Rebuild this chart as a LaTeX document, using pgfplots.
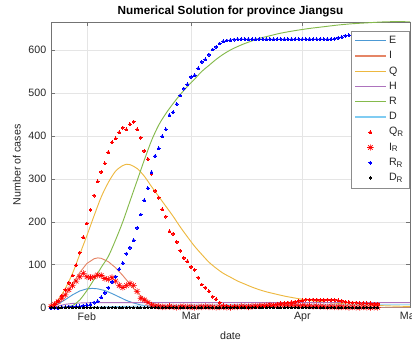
\documentclass[border=0pt]{standalone}
\usepackage{fontspec}
\setmainfont{Liberation Sans}
\usepackage{pgfplots}
\pgfplotsset{compat=1.18}
\usetikzlibrary{calc}

% MATLAB-like line colours
\definecolor{cE}{rgb}{0.30,0.60,0.83}
\definecolor{cI}{rgb}{0.90,0.52,0.40}
\definecolor{cQ}{rgb}{0.93,0.72,0.25}
\definecolor{cH}{rgb}{0.68,0.45,0.74}
\definecolor{cR}{rgb}{0.52,0.73,0.30}
\definecolor{cD}{rgb}{0.50,0.80,0.95}
\definecolor{axgray}{gray}{0.45}
\definecolor{txtgray}{gray}{0.15}

% eight-armed asterisk, as in MATLAB's '*' marker
\pgfdeclareplotmark{mstar}{%
  \pgfpathmoveto{\pgfqpoint{-\pgfplotmarksize}{0pt}}%
  \pgfpathlineto{\pgfqpoint{\pgfplotmarksize}{0pt}}%
  \pgfpathmoveto{\pgfqpoint{0pt}{-\pgfplotmarksize}}%
  \pgfpathlineto{\pgfqpoint{0pt}{\pgfplotmarksize}}%
  \pgfpathmoveto{\pgfqpoint{-0.707\pgfplotmarksize}{-0.707\pgfplotmarksize}}%
  \pgfpathlineto{\pgfqpoint{0.707\pgfplotmarksize}{0.707\pgfplotmarksize}}%
  \pgfpathmoveto{\pgfqpoint{-0.707\pgfplotmarksize}{0.707\pgfplotmarksize}}%
  \pgfpathlineto{\pgfqpoint{0.707\pgfplotmarksize}{-0.707\pgfplotmarksize}}%
  \pgfusepathqstroke}

\pgfplotsset{
  linelegend/.style={legend image code/.code={\draw[##1, line width=0.9pt] (0pt,0pt) -- (23pt,0pt);}},
  dotlegend/.style={legend image code/.code={\draw[mark repeat=2,mark phase=2,##1] plot coordinates {(0pt,0pt) (11.5pt,0pt) (23pt,0pt)};}},
  every axis title shift=0pt,
}

% model curves (day 0 = 22 Jan 2020)
\pgfplotstableread{
d E
0 2
2 9
4 19
6 30
8 39
10 44
11.5 45
13 44
15 40
17 33
19 25
21 17
23 11
25 6.5
27 4
30 2
35 0.7
40 0.3
50 0.1
60 0
100 0
}\tabE
\pgfplotstableread{
d I
0 5
2 14
4 30
6 55
8 82
10 103
12 114
13 116
14 115
16 107
18 93
20 75
22 55
24 35
26 20
28 11
30 6
33 3
40 1
50 0.3
60 0
100 0
}\tabI
\pgfplotstableread{
d Q
0 0
2 18
4 45
6 80
8 124
10 168
12 214
14 258
16 292
18 318
20 331
21 334
22 333
24 324
26 306
28 282
30 259
32 236
34 213
36 188
38 165
40 143
42 124
44 106
46 92
48 80
50 71
52 62
54 55
56 48
58 42
60 37
62 33
64 29
66 25.5
68 22.5
70 19.6
74 15
78 11.6
82 9
86 7
90 5.5
95 4
100 3
}\tabQ
\pgfplotstableread{
d H
0 0
2 4
4 8
6 10
8 11
12 12
100 12
}\tabH
\pgfplotstableread{
d R
0 0
2 0.5
4 2
6 5
8 18
10 40
12 66
14 94
16 120
18 158
20 200
22 248
24 296
26 344
28 389
30 425
32 452
34 475
36 496
38 515
40 532
42 550
44 564
46 578
48 590
50 600
52 608
54 615
56 621
58 627
60 631
64 639
68 645
72 650
76 654
80 658
84 661
88 663
92 665
96 666
100 667
}\tabR
\pgfplotstableread{
d D
0 0
10 1
20 3
30 5
40 6
60 7
100 7
}\tabD

% reported data, one row per day
\pgfplotstableread{
d QR IR RR DR
0 3 3 0 0
1 8 8 0 0
2 16 14 0 0
3 28 22 1 0
4 42 30 1 0
5 58 42 2 0
6 75 52 2 0
7 99 62 3 0
8 128 72 3 0
9 164 80 5 0
10 196 72 6 0
11 228 70 8 0
12 261 72 12 0
13 294 76 15 0
14 316 75 24 0
15 336 68 35 0
16 362 66 47 0
17 385 70 60 0
18 394 62 72 0
19 408 52 90 0
20 419 47 104 0
21 415 52 126 0
22 427 56 140 0
23 433 52 157 0
24 415 38 186 0
25 396 22 217 0
26 365 18 250 0
27 346 12 278 0
28 312 6 315 0
29 272 4 353 0
30 256 3 371 0
31 229 2 399 0
32 212 2 415 0
33 178 3 448 0
34 172 2 455 0
35 153 1 474 0
36 133 2 494 0
37 116 3 510 0
38 108 2 520 0
39 95 2 537 0
40 88 1 541 0
41 70 2 557 0
42 54 2 572 0
43 47 3 578 0
44 38 2 589 0
45 26 2 601 0
46 20 1 607 0
47 12 2 615 0
48 6 2 620 0
49 4 1 622 0
50 3 1 623 0
51 3 2 624 0
52 2 2 625 0
53 2 3 625 0
54 2 3 625 0
55 2 2 625 0
56 2 3 625 0
57 2 4 625 0
58 3 4 625 0
59 4 5 625 0
60 5 5 625 0
61 6 6 625 0
62 7 5 625 0
63 8 6 625 0
64 10 7 625 0
65 11 6 625 0
66 12 5 625 0
67 13 6 625 0
68 14 5 625 0
69 16 4 625 0
70 17 5 625 0
71 19 4 625 0
72 19 4 625 0
73 19 3 625 0
74 19 4 625 0
75 18 3 625 0
76 18 3 625 0
77 19 2 625 0
78 18 3 625 0
79 18 2 626 0
80 17 2 628 0
81 16 2 630 0
82 14 2 633 0
83 13 1 634 0
84 12 2 635 0
85 12 1 636 0
86 11 1 637 0
87 11 2 638 0
88 10 1 638 0
89 10 1 639 0
90 9 1 639 0
91 9 1 640 0
}\tabData

\begin{document}
\begin{tikzpicture}
\begin{axis}[
  scale only axis,
  width=269.25pt, height=214.3pt,
  xmin=0, xmax=100, ymin=0, ymax=665,
  xtick={10,39,70,100},
  xticklabels={Feb,Mar,Apr,May},
  ytick={0,100,...,600},
  font=\fontsize{8}{9.6}\selectfont,
  /pgf/number format/assume math mode=true,
  tick label style={text=txtgray},
  axis line style={axgray, line width=0.5pt},
  tick style={axgray, line width=0.4pt},
  tick align=inside,
  major tick length=3pt,
  grid=major,
  major grid style={black!10, line width=0.4pt},
  title={Numerical Solution for province Jiangsu},
  title style={font=\bfseries\fontsize{8.8}{10}\selectfont, at={(axis description cs:0.5,1)}, anchor=center, yshift=8.25pt, text=black},
  xlabel={date},
  xlabel style={at={(axis description cs:0.5,-0.098)}, anchor=center, text=txtgray},
  ylabel={Number of cases},
  ylabel style={at={(axis description cs:-0.095,0.5)}, anchor=center, text=txtgray},
  legend cell align=left,
  legend style={at={(1,0.97)}, anchor=north east, draw=black!45, fill=white,
    font=\fontsize{8}{9}\selectfont, row sep=0.4pt, inner xsep=2.5pt, inner ysep=2pt,
    text=txtgray},
  linelegend,
  every axis plot/.append style={line width=0.7pt},
]
\addplot[cE, no marks] table[x=d, y=E] {\tabE};
\addlegendentry{E}
\addplot[cI, no marks] table[x=d, y=I] {\tabI};
\addlegendentry{I}
\addplot[cQ, no marks, smooth] table[x=d, y=Q] {\tabQ};
\addlegendentry{Q}
\addplot[cH, no marks] table[x=d, y=H] {\tabH};
\addlegendentry{H}
\addplot[cR, no marks, smooth] table[x=d, y=R] {\tabR};
\addlegendentry{R}
\addplot[cD, no marks] table[x=d, y=D] {\tabD};
\addlegendentry{D}

\addplot[only marks, mark=*, mark size=1.1pt, red, mark options={draw=red, fill=red, line width=0pt}, dotlegend]
  table[x=d, y=QR] {\tabData};
\addlegendentry{Q\textsubscript{R}}
\addplot[only marks, mark=mstar, mark size=2.4pt, red, mark options={draw=red, line width=0.45pt}, dotlegend]
  table[x=d, y=IR] {\tabData};
\addlegendentry{I\textsubscript{R}}
\addplot[only marks, mark=*, mark size=1.1pt, blue, mark options={draw=blue, fill=blue, line width=0pt}, dotlegend]
  table[x=d, y=RR] {\tabData};
\addlegendentry{R\textsubscript{R}}
\addplot[only marks, mark=*, mark size=0.85pt, black, mark options={draw=black, fill=black, line width=0pt}, dotlegend]
  table[x=d, y=DR] {\tabData};
\addlegendentry{D\textsubscript{R}}

\node[anchor=center, text=txtgray, font=\fontsize{8}{9.6}\selectfont]
  at ([xshift=-13.9pt, yshift=-16.9pt]rel axis cs:1,0) {2020};
\end{axis}
\pgfresetboundingbox
\path[use as bounding box]
  ([xshift=-38.25pt, yshift=-25pt]current axis.south west)
  rectangle ([xshift=1.5pt, yshift=16.5pt]current axis.north east);
\end{tikzpicture}
\end{document}
